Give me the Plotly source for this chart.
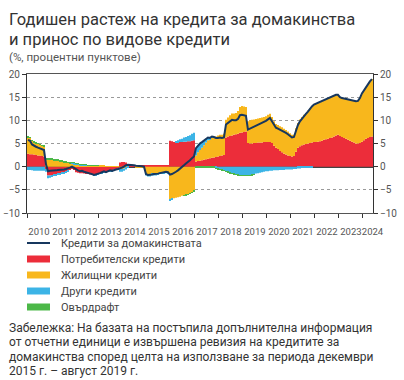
import plotly.graph_objects as go

years = list(range(2010, 2025))

# Monthly values per year (Jan..Dec); 2024 has Jan..May
total = {
    2010: [5.8, 5.6, 4.8, 4.5, 4.3, 4.1, 3.9, 3.8, 3.6, 0.5, -1.0, -0.9],
    2011: [-0.9, -0.8, -0.8, -0.7, -0.7, -0.6, -0.6, -0.5, -0.4, -0.2, 0.0, -0.3],
    2012: [-0.6, -0.8, -1.0, -0.9, -1.1, -1.2, -1.3, -1.5, -1.6, -1.8, -1.7, -1.5],
    2013: [-1.4, -1.2, -1.0, -1.2, -1.0, -0.8, -0.9, -0.7, -0.6, -0.5, -0.4, -0.2],
    2014: [0.0, 0.3, 0.4, 0.4, 0.3, 0.3, 0.2, 0.2, 0.1, 0.1, 0.0, -1.6],
    2015: [-1.8, -1.8, -1.7, -1.6, -1.6, -1.5, -1.4, -1.3, -1.2, -1.1, -1.2, -1.7],
    2016: [-1.6, -1.4, -1.1, -0.8, -0.5, -0.1, 0.3, 0.7, 1.0, 1.4, 1.8, 2.2],
    2017: [4.0, 4.6, 5.0, 5.3, 5.6, 6.0, 6.3, 6.2, 6.5, 6.4, 6.2, 6.2],
    2018: [6.3, 6.2, 6.3, 9.1, 9.5, 9.8, 10.1, 10.0, 10.0, 10.3, 11.1, 11.2],
    2019: [11.1, 11.0, 8.0, 8.2, 8.4, 8.6, 8.8, 9.0, 9.2, 9.4, 9.6, 9.9],
    2020: [10.2, 10.5, 9.8, 9.0, 8.4, 8.2, 8.0, 7.8, 7.5, 7.3, 7.0, 6.6],
    2021: [6.3, 6.4, 7.8, 9.0, 9.8, 10.4, 10.9, 11.4, 11.9, 12.5, 13.0, 13.4],
    2022: [13.6, 13.8, 13.9, 14.1, 14.3, 14.6, 14.8, 15.0, 15.2, 15.3, 15.5, 15.5],
    2023: [15.0, 14.8, 14.7, 14.6, 14.5, 14.4, 14.3, 14.2, 14.1, 14.2, 14.8, 15.8],
    2024: [16.5, 17.2, 17.8, 18.4, 18.9],
}
consumer = {
    2010: [2.8, 2.7, 2.7, 2.6, 2.5, 2.4, 2.4, 2.3, 2.2, -0.5, -1.9, -1.9],
    2011: [-1.8, -1.7, -1.6, -1.5, -1.4, -1.3, -1.2, -1.0, -0.9, -0.7, -0.5, -0.7],
    2012: [-1.2, -1.3, -1.4, -1.4, -1.5, -1.6, -1.6, -1.7, -1.8, -1.9, -1.8, -1.6],
    2013: [-1.4, -1.3, -1.2, -1.2, -1.0, -0.9, -0.9, -0.7, -0.6, -0.5, 0.9, 1.0],
    2014: [1.0, 0.9, 0.5, 0.4, 0.4, 0.3, 0.3, 0.3, 0.2, 0.2, 0.2, 0.3],
    2015: [0.3, 0.3, 0.3, 0.3, 0.3, 0.3, 0.3, 0.3, 0.3, 0.3, 0.3, 5.6],
    2016: [5.5, 5.3, 5.2, 5.3, 5.3, 5.3, 5.4, 5.4, 5.5, 5.5, 5.6, 5.7],
    2017: [1.1, 1.2, 1.3, 1.4, 1.5, 1.6, 1.7, 1.8, 1.9, 2.0, 2.1, 2.2],
    2018: [2.3, 2.4, 2.5, 6.3, 6.5, 6.6, 6.7, 6.9, 7.0, 7.1, 7.3, 7.4],
    2019: [7.5, 7.6, 5.1, 5.0, 5.0, 5.1, 5.1, 5.2, 5.2, 5.2, 5.3, 5.3],
    2020: [5.3, 5.3, 5.1, 4.5, 4.1, 3.8, 3.4, 3.1, 2.8, 2.6, 2.4, 2.3],
    2021: [2.2, 2.3, 3.2, 4.1, 4.4, 4.6, 4.8, 4.9, 5.0, 5.1, 5.2, 5.3],
    2022: [5.3, 5.4, 5.5, 5.6, 5.8, 5.9, 6.0, 6.2, 6.3, 6.5, 6.7, 6.9],
    2023: [6.6, 6.4, 6.2, 6.0, 5.8, 5.6, 5.4, 5.2, 5.0, 5.0, 5.1, 5.4],
    2024: [5.7, 6.0, 6.2, 6.4, 6.5],
}
housing = {
    2010: [3.6, 3.5, 2.9, 2.7, 2.6, 2.5, 2.3, 2.2, 2.2, 1.6, 1.6, 1.5],
    2011: [1.5, 1.4, 1.4, 1.3, 1.2, 1.1, 1.0, 0.9, 0.8, 0.7, 0.6, 0.5],
    2012: [0.4, 0.4, 0.3, 0.3, 0.3, 0.3, 0.2, 0.2, 0.2, 0.2, 0.2, 0.2],
    2013: [0.2, 0.2, 0.2, 0.1, 0.1, 0.1, 0.1, 0.1, 0.1, 0.1, -0.5, -0.5],
    2014: [-0.4, -0.2, 0.0, 0.0, 0.0, 0.0, -0.1, -0.1, -0.1, -0.1, -0.2, -1.4],
    2015: [-1.6, -1.6, -1.5, -1.5, -1.5, -1.4, -1.3, -1.3, -1.2, -1.1, -1.2, -7.0],
    2016: [-6.9, -6.8, -6.7, -6.6, -6.5, -6.3, -6.2, -6.1, -6.0, -5.8, -5.5, -5.2],
    2017: [1.3, 1.9, 2.3, 2.7, 3.1, 3.6, 4.0, 4.0, 4.4, 4.4, 4.4, 4.5],
    2018: [4.6, 4.5, 4.6, 3.8, 4.1, 4.5, 4.8, 4.6, 4.6, 4.9, 5.6, 5.7],
    2019: [5.5, 5.3, 4.7, 5.0, 5.1, 5.1, 5.2, 5.2, 5.3, 5.4, 5.4, 5.6],
    2020: [5.9, 6.1, 5.6, 5.3, 5.1, 5.2, 5.3, 5.4, 5.4, 5.3, 5.2, 4.9],
    2021: [4.7, 4.6, 5.1, 5.3, 5.8, 6.1, 6.4, 6.7, 7.1, 7.5, 7.9, 8.1],
    2022: [8.3, 8.4, 8.4, 8.5, 8.5, 8.7, 8.8, 8.8, 8.9, 8.8, 8.8, 8.6],
    2023: [8.4, 8.4, 8.5, 8.6, 8.7, 8.8, 8.9, 9.0, 9.1, 9.2, 9.7, 10.4],
    2024: [10.8, 11.2, 11.6, 12.0, 12.4],
}
other = {
    2010: [-0.7, -0.7, -0.8, -0.9, -0.9, -0.9, -0.9, -0.9, -0.9, -0.6, -0.6, -0.5],
    2011: [-0.4, -0.3, -0.3, -0.3, -0.2, -0.2, -0.2, -0.2, -0.1, 0.0, 0.2, 0.3],
    2012: [0.2, 0.2, 0.1, 0.1, 0.1, 0.1, 0.0, 0.0, 0.0, -0.1, -0.1, -0.1],
    2013: [-0.1, -0.1, -0.1, -0.1, -0.1, -0.1, -0.1, -0.1, -0.1, -0.1, -0.6, -0.6],
    2014: [-0.5, -0.4, -0.1, 0.0, 0.0, 0.0, 0.0, 0.0, 0.0, 0.0, 0.0, -0.5],
    2015: [-0.5, -0.5, -0.4, -0.4, -0.4, -0.3, -0.3, -0.3, -0.3, -0.3, -0.3, -0.3],
    2016: [-0.1, 0.0, 0.3, 0.4, 0.6, 0.7, 0.9, 1.0, 1.1, 1.3, 1.5, 1.6],
    2017: [1.6, 1.5, 1.4, 1.2, 1.0, 0.8, 0.6, 0.4, 0.2, 0.0, -0.3, -0.5],
    2018: [-0.6, -0.7, -0.8, -1.0, -1.1, -1.3, -1.4, -1.5, -1.6, -1.7, -1.8, -1.9],
    2019: [-1.9, -1.9, -1.8, -1.8, -1.7, -1.6, -1.5, -1.4, -1.3, -1.2, -1.1, -1.0],
    2020: [-1.0, -0.9, -0.9, -0.8, -0.8, -0.8, -0.7, -0.7, -0.7, -0.6, -0.6, -0.6],
    2021: [-0.6, -0.5, -0.5, -0.4, -0.4, -0.3, -0.3, -0.2, -0.2, -0.1, -0.1, 0.0],
    2022: [0.0] * 12,
    2023: [0.0] * 12,
    2024: [0.0] * 5,
}
overdraft = {
    2010: [0.1, 0.1, 0.1, 0.1, 0.1, 0.1, 0.1, 0.1, 0.1, 0.2, 0.2, 0.2],
    2011: [0.2, 0.2, 0.2, 0.2, 0.2, 0.2, 0.2, 0.2, 0.1, 0.1, 0.1, 0.1],
    2012: [0.1] * 12,
    2013: [0.0] * 12,
    2014: [0.0] * 12,
    2015: [0.0] * 12,
    2016: [0.0, 0.0, 0.0, 0.0, 0.0, 0.0, -0.1, -0.1, -0.1, -0.1, -0.1, -0.1],
    2017: [-0.2] * 12,
    2018: [-0.1] * 12,
    2019: [-0.1] * 6 + [0.0] * 6,
    2020: [0.0] * 12,
    2021: [0.0] * 12,
    2022: [0.0] * 12,
    2023: [0.0] * 12,
    2024: [0.0] * 5,
}

names = ["Кредити за домакинствата", "Потребителски кредити", "Жилищни кредити",
         "Други кредити", "Овърдрафт"]
colors = ["#17375e", "#ec2d3a", "#f8b71c", "#3cb4e6", "#4cb848"]
year_labels = [str(y) for y in years]
title_lines = ["Годишен растеж на кредита за домакинства", "и принос по видове кредити"]
subtitle = "(%, процентни пунктове)"
note_lines = ["Забележка: На базата на постъпила допълнителна информация",
              "от отчетни единици е извършена ревизия на кредитите за",
              "домакинства според целта на използване за периода декември",
              "2015 г. – август 2019 г."]


def flat(d):
    xs, vs = [], []
    for y in years:
        for i, v in enumerate(d[y]):
            xs.append(y + (i + 0.5) / 12)
            vs.append(v)
    return xs, vs


x, tot = flat(total)
_, cons = flat(consumer)
_, hous = flat(housing)
_, oth = flat(other)
_, ovd = flat(overdraft)

FONT = "Roboto, Arial, sans-serif"
L, R, T, B = 27, 373, 74, 213
PW, PH = R - L, B - T


def px(X):
    return (X - L) / PW


def py(Y):
    return (B - Y) / PH


fig = go.Figure()
for k, vals in zip(range(1, 5), [cons, hous, oth, ovd]):
    fig.add_trace(go.Bar(x=x, y=vals, name=names[k], marker_color=colors[k],
                         marker_line_width=0))
fig.add_trace(go.Scatter(x=x, y=tot, name=names[0], mode="lines",
                         line=dict(color=colors[0], width=2)))
fig.add_trace(go.Scatter(x=[x[0]], y=[0], yaxis="y2", showlegend=False,
                         mode="markers", marker=dict(opacity=0), hoverinfo="skip"))
fig.add_trace(go.Scatter(x=[2010.5], y=[0], xaxis="x2", showlegend=False,
                         mode="markers", marker=dict(opacity=0), hoverinfo="skip"))

tickfont = dict(family=FONT, size=10, color="#555")

annotations = []
shapes = []
for i, t in enumerate(title_lines):
    annotations.append(dict(xref="paper", yref="paper", x=px(7), y=py(20 + 20 * i),
                            xanchor="left", yanchor="middle", align="left", showarrow=False,
                            text=t, font=dict(family=FONT, size=16.5, color="#333")))
annotations.append(dict(xref="paper", yref="paper", x=px(7), y=py(57),
                        xanchor="left", yanchor="middle", align="left", showarrow=False,
                        text=subtitle, font=dict(family=FONT, size=11.5, color="#555")))
for i, t in enumerate(note_lines):
    annotations.append(dict(xref="paper", yref="paper", x=px(7), y=py(328 + 14.4 * i),
                            xanchor="left", yanchor="middle", align="left", showarrow=False,
                            text=t, font=dict(family=FONT, size=12, color="#333")))
for i, (nm, col) in enumerate(zip(names, colors)):
    yc = 243 + 16 * i
    if i == 0:
        shapes.append(dict(type="line", xref="paper", yref="paper",
                           x0=px(27), x1=px(50), y0=py(yc), y1=py(yc),
                           line=dict(color=col, width=2)))
    else:
        shapes.append(dict(type="rect", xref="paper", yref="paper",
                           x0=px(27), x1=px(50), y0=py(yc - 3.5), y1=py(yc + 3.5),
                           fillcolor=col, line=dict(width=0)))
    annotations.append(dict(xref="paper", yref="paper", x=px(59), y=py(yc),
                            xanchor="left", yanchor="middle", align="left", showarrow=False,
                            text=nm, font=dict(family=FONT, size=11, color="#444")))

fig.update_layout(
    width=404, height=380,
    margin=dict(l=L, r=404 - R, t=T, b=380 - B, autoexpand=False),
    paper_bgcolor="white", plot_bgcolor="white",
    barmode="relative", bargap=0.4,
    showlegend=False,
    xaxis=dict(range=[2010, 2024.42], showgrid=False, zeroline=False,
               tickmode="array",
               tickvals=[y + 0.5 for y in years[:-1]] + [2024.4],
               ticktext=year_labels, tickangle=0, automargin=False,
               ticks="", tickfont=dict(family=FONT, size=9.5, color="#555"),
               ticklabelstandoff=10,
               showline=True, linecolor="#555", linewidth=1, mirror=True),
    xaxis2=dict(range=[2010, 2024.42], overlaying="x", anchor="y",
                tickmode="array", tickvals=years, ticktext=[""] * len(years),
                ticks="outside", ticklen=4, tickcolor="#333", side="bottom",
                showgrid=False, zeroline=False, showline=False, automargin=False),
    yaxis=dict(range=[-10, 20], tickvals=[-10, -5, 0, 5, 10, 15, 20],
               ticks="outside", ticklen=4, tickcolor="#333", automargin=False,
               showline=True, linecolor="#333", linewidth=1,
               showgrid=True, gridcolor="#9a9a9a", griddash="dot", gridwidth=1,
               zeroline=True, zerolinecolor="#444", zerolinewidth=1.5,
               tickfont=tickfont),
    yaxis2=dict(range=[-10, 20], tickvals=[-10, -5, 0, 5, 10, 15, 20],
                overlaying="y", side="right", anchor="x", automargin=False,
                ticks="outside", ticklen=4, tickcolor="#333",
                showline=True, linecolor="#333", linewidth=1,
                showgrid=False, zeroline=False, tickfont=tickfont),
    annotations=annotations,
    shapes=shapes,
)

fig.write_html("out.html", config={"displayModeBar": False},
               post_script="document.body.style.margin='0';document.body.style.overflow='hidden';")
